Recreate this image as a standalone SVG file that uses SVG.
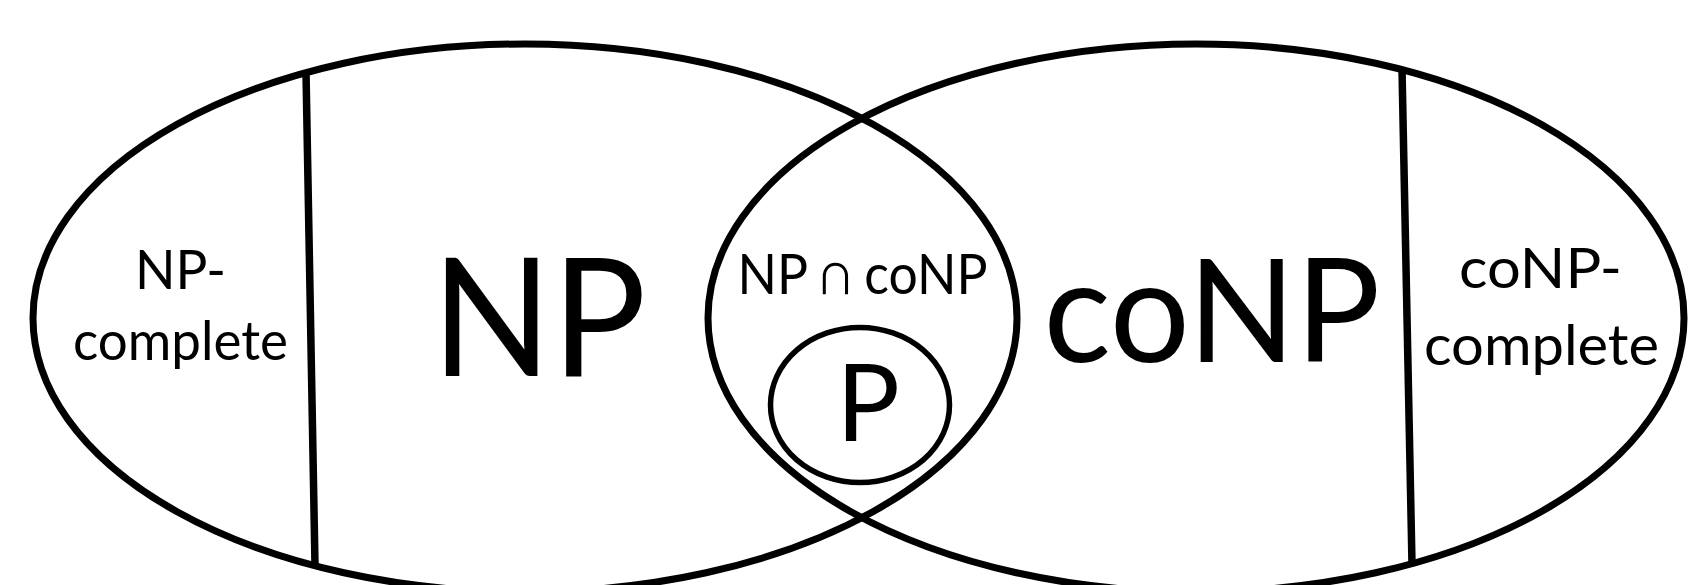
<svg xmlns="http://www.w3.org/2000/svg" width="1688" height="585" viewBox="0 0 1688 585">
<style>
  .set { fill: none; stroke: #000; stroke-width: 7; }
  .div { stroke: #000; stroke-width: 7.5; stroke-linecap: butt; }
  .lbl { font-family: Lato, "Open Sans", "Liberation Sans", sans-serif; fill: #000; text-anchor: middle; }
</style>
<rect width="1688" height="585" fill="#fff"/>
<g id="np">
  <ellipse class="set" cx="525" cy="318" rx="492" ry="274"/>
  <text class="lbl" x="539" y="376" font-size="165" textLength="215" lengthAdjust="spacingAndGlyphs">NP</text>
</g>
<g id="conp">
  <ellipse class="set" cx="1196" cy="318" rx="488" ry="274"/>
  <text class="lbl" x="1212" y="362" font-size="144" textLength="337" lengthAdjust="spacingAndGlyphs">coNP</text>
</g>
<g id="np-complete">
  <line class="div" x1="306" y1="72" x2="315" y2="565"/>
  <text class="lbl" x="180.5" y="289" font-size="55" textLength="91" lengthAdjust="spacingAndGlyphs">NP-</text>
  <text class="lbl" x="180.5" y="360" font-size="55" textLength="215" lengthAdjust="spacingAndGlyphs">complete</text>
</g>
<g id="conp-complete">
  <line class="div" x1="1402" y1="69" x2="1412" y2="564"/>
  <text class="lbl" x="1540.5" y="288" font-size="56" textLength="163" lengthAdjust="spacingAndGlyphs">coNP-</text>
  <text class="lbl" x="1541.5" y="365" font-size="56" textLength="235" lengthAdjust="spacingAndGlyphs">complete</text>
</g>
<g id="np-cap-conp">
  <text class="lbl" x="862.5" y="294" font-size="57" textLength="250" lengthAdjust="spacingAndGlyphs">NP ∩ coNP</text>
</g>
<g id="p">
  <ellipse class="set" cx="860" cy="405" rx="89.5" ry="77.5" style="stroke-width:5.5"/>
  <text class="lbl" x="868" y="441" font-size="106">P</text>
</g>
<g id="connectors"></g>
</svg>
